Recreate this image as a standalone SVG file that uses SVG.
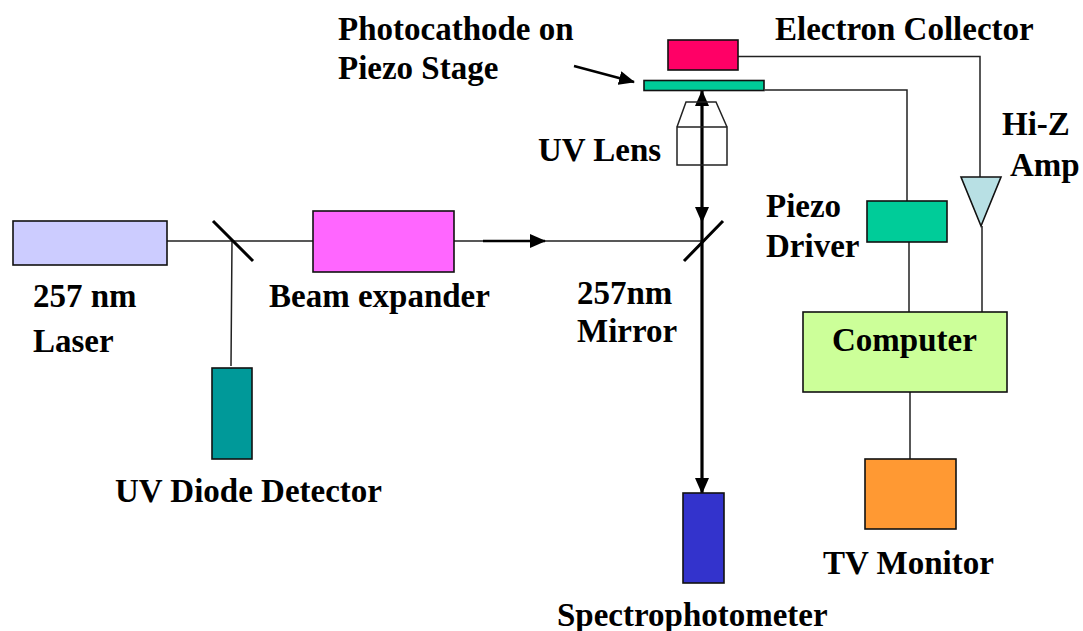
<svg xmlns="http://www.w3.org/2000/svg" width="1083" height="631" viewBox="0 0 1083 631">
<style>
text{font-family:"Liberation Serif","Times New Roman",serif;font-weight:bold;font-size:33px;fill:#000}
.n{stroke:#111;stroke-width:1.6}
.c{fill:none;stroke:#222;stroke-width:1.5}
.m{fill:none;stroke:#000;stroke-width:3}
.t{fill:none;stroke:#000;stroke-width:3.2}
</style>
<defs><marker id="a" markerUnits="userSpaceOnUse" markerWidth="16" markerHeight="16" refX="15" refY="8" orient="auto-start-reverse"><path d="M0 1L16 8L0 15z" fill="#000"/></marker></defs>
<rect width="1083" height="631" fill="#fff"/>
<g id="connectors">
<path class="c" d="M167 241H313M454 241H702M232 241L231 366M738 56.500H980V177M765 90H907V201M909 242V312M982 226V312M910 392V459"/>
<path class="m" d="M213 221L253 261M684 261L723 221"/>
<path class="t" style="stroke-width:2.500" d="M483 241H545" marker-end="url(#a)"/>
<path class="t" d="M702 91V222" marker-start="url(#a)" marker-end="url(#a)"/>
<path class="t" d="M702 222V493" marker-end="url(#a)"/>
<path class="t" style="stroke-width:2.500" d="M574 66L634 82" marker-end="url(#a)"/>
</g>
<g id="laser"><rect class="n" x="13" y="221" width="154" height="44" fill="#ccccff"/><text x="33" y="307">257 nm</text><text x="33" y="352">Laser</text></g>
<g id="beam-expander"><rect class="n" x="313" y="211" width="141" height="61" fill="#ff66ff"/><text x="269" y="307">Beam expander</text></g>
<g id="diode"><rect class="n" x="212" y="368" width="40" height="91" fill="#009999"/><text x="115" y="502">UV Diode Detector</text></g>
<g id="mirror-label"><text x="577" y="304">257nm</text><text x="577" y="342">Mirror</text></g>
<g id="lens"><path d="M677 127V165H727V127ZM677 127L686 102H716L727 127" fill="none" stroke="#222" stroke-width="1.500"/><text x="538" y="161">UV Lens</text></g>
<g id="stage"><rect class="n" x="644" y="80.500" width="120" height="10" fill="#00cc99"/><text x="338" y="40">Photocathode on</text><text x="338" y="79">Piezo Stage</text></g>
<g id="collector"><rect class="n" x="668" y="40" width="70" height="30" fill="#ff0066"/><text x="775" y="40">Electron Collector</text></g>
<g id="amp"><path class="n" d="M961 177H1001L981 226Z" fill="#b8e0e4"/><text x="1002" y="135">Hi-Z</text><text x="1010" y="176">Amp</text></g>
<g id="driver"><rect class="n" x="867" y="201" width="80" height="41" fill="#00cc99"/><text x="766" y="217">Piezo</text><text x="766" y="257">Driver</text></g>
<g id="computer"><rect class="n" x="803" y="312" width="204" height="80" fill="#ccff99"/><text x="832" y="351">Computer</text></g>
<g id="monitor"><rect class="n" x="865" y="459" width="91" height="70" fill="#ff9933"/><text x="823" y="574">TV Monitor</text></g>
<g id="spectro"><rect class="n" x="683" y="493" width="41" height="90" fill="#3333cc"/><text x="557" y="626">Spectrophotometer</text></g>
</svg>
